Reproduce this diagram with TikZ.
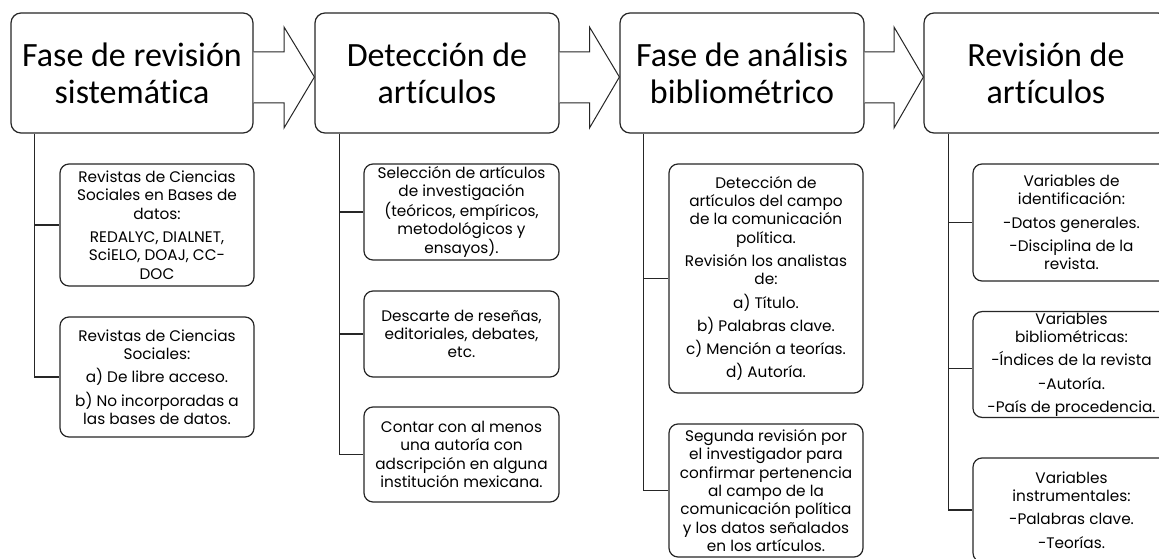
\documentclass[tikz,border=0pt]{standalone}
\usepackage{fontspec}
\setmainfont{Poppins}
\newfontfamily\titlefont[RawFeature=-liga]{Carlito}
\usetikzlibrary{calc}

\tikzset{
  phase/.style = {draw=black!85, line width=1.2pt, rounded corners=10pt, fill=white,
    minimum width=244pt, minimum height=120pt, align=center,
    font=\titlefont\fontsize{34}{37}\selectfont},
  item/.style = {draw=black!85, line width=1.2pt, rounded corners=9pt, fill=white,
    minimum width=194pt, inner sep=1pt, align=center,
    font=\fontsize{15.3}{18.3}\selectfont},
  branch/.style = {draw=black!85, line width=1.2pt},
  phasearrow/.style = {draw=black!85, line width=1pt, fill=white, line join=miter}
}

\begin{document}
\begin{tikzpicture}[x=1pt, y=1pt]

\useasboundingbox (0,0) rectangle (1159,558);
\clip (0,0) rectangle (1159,558);

% phases
\node[phase, minimum width=242pt] (fase) at (132,485) {Fase de revisión\\sistemática};
\node[phase] (deteccion) at (437,485) {Detección de\\artículos};
\node[phase] (analisis) at (742,485) {Fase de análisis\\bibliométrico};
\node[phase] (revision) at (1046,485) {Revisión de\\artículos};

% big arrows between phases
\coordinate (m1) at ($(fase.east)!.5!(deteccion.west)$);
\coordinate (m2) at ($(deteccion.east)!.5!(analisis.west)$);
\coordinate (m3) at ($(analisis.east)!.5!(revision.west)$);
\draw[phasearrow] ([yshift=21pt]fase.east) -- ([yshift=21pt]m1) -- ([yshift=46pt]m1) -- ([yshift=-4pt]deteccion.west) -- ([yshift=-55pt]m1) -- ([yshift=-30pt]m1) -- ([yshift=-30pt]fase.east);
\draw[phasearrow] ([yshift=21pt]deteccion.east) -- ([yshift=21pt]m2) -- ([yshift=46pt]m2) -- ([yshift=-4pt]analisis.west) -- ([yshift=-55pt]m2) -- ([yshift=-30pt]m2) -- ([yshift=-30pt]deteccion.east);
\draw[phasearrow] ([yshift=21pt]analisis.east) -- ([yshift=21pt]m3) -- ([yshift=46pt]m3) -- ([yshift=-4pt]revision.west) -- ([yshift=-55pt]m3) -- ([yshift=-30pt]m3) -- ([yshift=-30pt]analisis.east);

% column 1
\node[item, minimum height=122pt] (rev1) at (157,333) {Revistas de Ciencias\\Sociales en Bases de\\datos:\\[5pt]REDALYC, DIALNET,\\SciELO, DOAJ, CC-\\DOC};
\node[item, minimum height=120pt] (rev2) at (157,181) {Revistas de Ciencias\\Sociales:\\[5pt]a) De libre acceso.\\[5pt]b) No incorporadas a\\las bases de datos.};

% column 2
\node[item, minimum width=195pt, minimum height=96pt] (sel) at (461.5,346) {Selección de artículos\\de investigación\\(teóricos, empíricos,\\metodológicos y\\ensayos).};
\node[item, minimum width=195pt, minimum height=86pt] (desc) at (461.5,224) {Descarte de reseñas,\\editoriales, debates,\\etc.};
\node[item, minimum width=195pt, minimum height=95pt] (aut) at (461.5,103.5) {Contar con al menos\\una autoría con\\adscripción en alguna\\institución mexicana.};

% column 3
\node[item, minimum height=229pt] (det) at (766,279.5) {Detección de\\artículos del campo\\de la comunicación\\política.\\[5pt]Revisión los analistas\\de:\\[5pt]a) Título.\\[5pt]b) Palabras clave.\\[5pt]c) Mención a teorías.\\[5pt]d) Autoría.};
\node[item, minimum height=133pt] (seg) at (766,67.5) {Segunda revisión por\\el investigador para\\confirmar pertenencia\\al campo de la\\comunicación política\\y los datos señalados\\en los artículos.};

% column 4
\node[item, minimum width=197pt, minimum height=117pt] (var1) at (1071.5,335.5) {Variables de\\identificación:\\[5pt]-Datos generales.\\[5pt]-Disciplina de la\\revista.};
\node[item, minimum width=197pt, minimum height=105pt] (var2) at (1071.5,193.5) {Variables\\bibliométricas:\\[5pt]-Índices de la revista\\[5pt]-Autoría.\\[5pt]-País de procedencia.};
\node[item, minimum width=197pt, minimum height=104pt] (var3) at (1071.5,48) {Variables\\instrumentales:\\[5pt]-Palabras clave.\\[5pt]-Teorías.};

% branches
\coordinate (t1) at ([xshift=24pt]fase.south west);
\coordinate (t2) at ([xshift=25pt]deteccion.south west);
\coordinate (t3) at ([xshift=24pt]analisis.south west);
\coordinate (t4) at ([xshift=25pt]revision.south west);

\draw[branch] (t1) |- (rev2.west);
\draw[branch] (t1 |- rev1.west) -- (rev1.west);

\draw[branch] (t2) |- (aut.west);
\draw[branch] (t2 |- sel.west) -- (sel.west);
\draw[branch] (t2 |- desc.west) -- (desc.west);

\draw[branch] (t3) |- (seg.west);
\draw[branch] (t3 |- det.west) -- (det.west);

\draw[branch] (t4) |- (var3.west);
\draw[branch] (t4 |- var1.west) -- (var1.west);
\draw[branch] ([yshift=-4pt]t4 |- var2.west) -- ([yshift=-4pt]var2.west);

\end{tikzpicture}
\end{document}
